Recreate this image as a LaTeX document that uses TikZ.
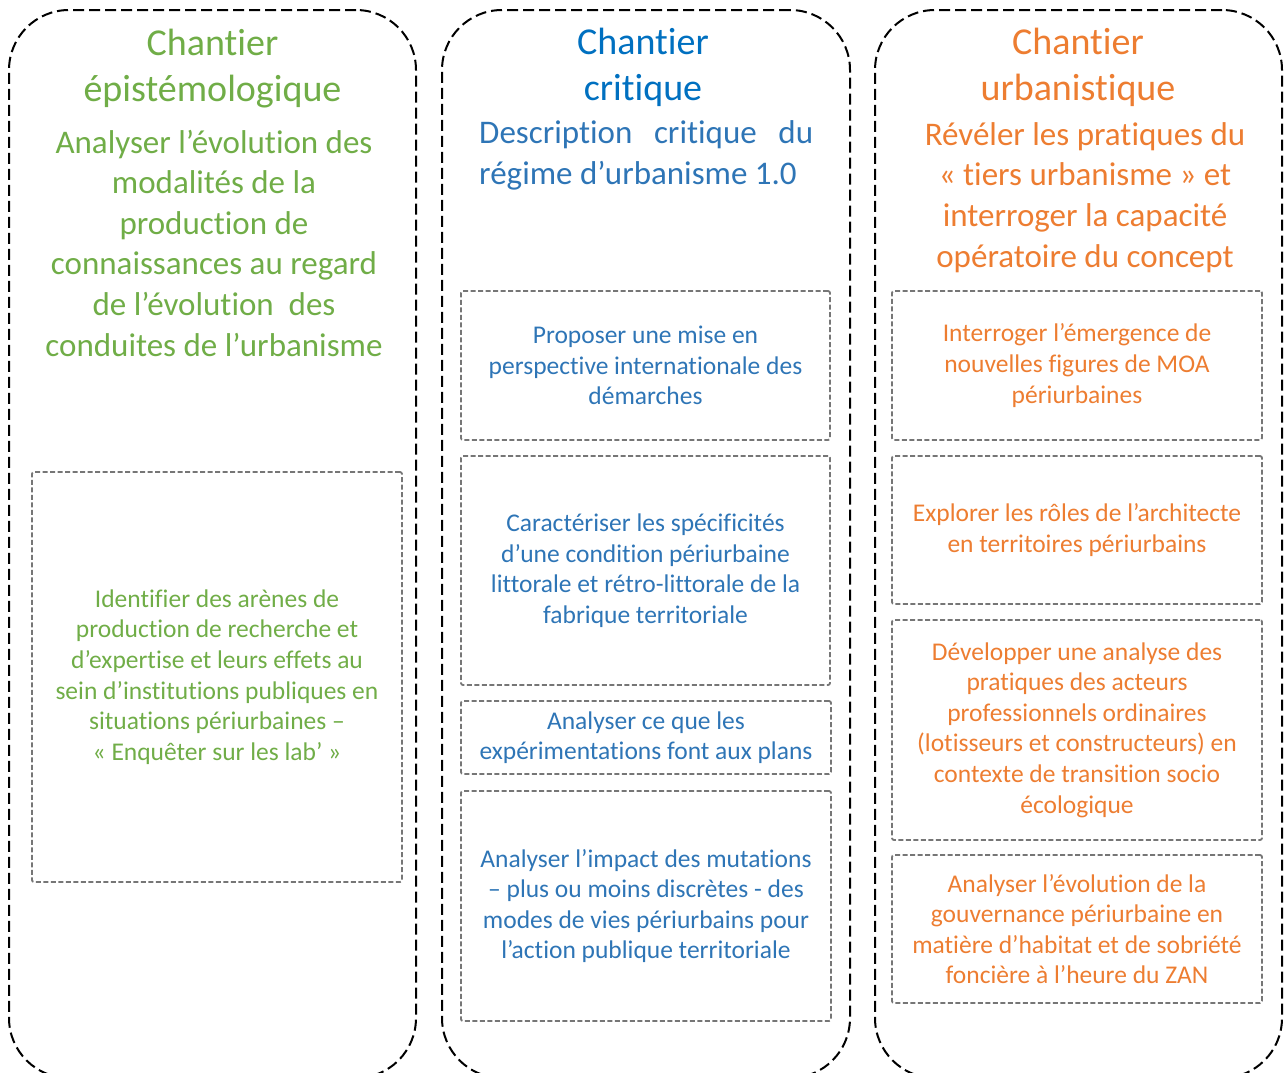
\documentclass[tikz,border=0pt]{standalone}
\usepackage{fontspec}
\setmainfont{Carlito}[Ligatures=NoCommon]
\definecolor{epigreen}{HTML}{70AD47}
\definecolor{critblue}{HTML}{0070C0}
\definecolor{critbluel}{HTML}{2E75B6}
\definecolor{urborange}{HTML}{ED7D31}
\definecolor{boxgray}{HTML}{767676}
\tikzset{
  column/.style={draw=black, line width=2pt, dash pattern=on 11pt off 5pt, rounded corners=60pt,
    minimum width=407pt, minimum height=1068pt, inner sep=0pt},
  subbox/.style={draw=boxgray, line width=1.8pt, dash pattern=on 5pt off 2.5pt, rounded corners=2pt,
    align=center, inner sep=0pt, font=\fontsize{25.5}{30.6}\selectfont},
  chtitle/.style={align=center, anchor=base, font=\fontsize{38}{46}\selectfont},
  chlead/.style={align=center, anchor=base, font=\fontsize{33}{40.6}\selectfont},
}
\begin{document}
\begin{tikzpicture}[x=1pt, y=-1pt]
  \useasboundingbox (0,0) rectangle (1285,1072);
  % the three chantiers
  \node[column] (C1) at (212.5,544) {};
  \node[column, minimum width=408pt] (C2) at (646,544) {};
  \node[column] (C3) at (1078.5,544) {};
  % epistemologique (anchors sit on the last line)
  \node[chtitle, text=epigreen] (T1) at (212.5,101) {Chantier\\épistémologique};
  \node[chlead, text=epigreen] (L1) at (214,356) {Analyser l’évolution des\\modalités de la\\production de\\connaissances au regard\\de l’évolution\ \ des\\conduites de l’urbanisme};
  \node[subbox, text=epigreen, minimum width=370pt, minimum height=410pt] (E1) at (217,677)
    {Identifier des arènes de\\production de recherche et\\d’expertise et leurs effets au\\sein d’institutions publiques en\\situations périurbaines –\\« Enquêter sur les lab’ »};
  % critique
  \node[chtitle, text=critblue] (T2) at (643,100) {Chantier\\critique};
  \node[chlead, anchor=base west, align=left, inner xsep=0pt, text=critbluel] (L2) at (479,184)
    {\makebox[334pt][s]{Description critique du}\\régime d’urbanisme 1.0};
  \node[subbox, text=critbluel, minimum width=369pt, minimum height=149pt] (K1) at (645.5,365.5)
    {Proposer une mise en\\perspective internationale des\\démarches};
  \node[subbox, text=critbluel, minimum width=369pt, minimum height=229pt] (K2) at (645.5,570.5)
    {Caractériser les spécificités\\d’une condition périurbaine\\littorale et rétro-littorale de la\\fabrique territoriale};
  \node[subbox, text=critbluel, minimum width=370pt, minimum height=73pt] (K3) at (646,737.5)
    {Analyser ce que les\\expérimentations font aux plans};
  \node[subbox, text=critbluel, minimum width=370pt, minimum height=230pt] (K4) at (646,906)
    {Analyser l’impact des mutations\\– plus ou moins discrètes - des\\modes de vies périurbains pour\\l’action publique territoriale};
  % urbanistique
  \node[chtitle, text=urborange] (T3) at (1078,100) {Chantier\\urbanistique};
  \node[chlead, text=urborange] (L3) at (1085,267) {Révéler les pratiques du\\« tiers urbanisme » et\\interroger la capacité\\opératoire du concept};
  \node[subbox, text=urborange, minimum width=370pt, minimum height=149pt] (U1) at (1077,365.5)
    {Interroger l’émergence de\\nouvelles figures de MOA\\périurbaines};
  \node[subbox, text=urborange, minimum width=370pt, minimum height=148pt] (U2) at (1077,530)
    {Explorer les rôles de l’architecte\\en territoires périurbains};
  \node[subbox, text=urborange, minimum width=370pt, minimum height=220pt] (U3) at (1077,730)
    {Développer une analyse des\\pratiques des acteurs\\professionnels ordinaires\\(lotisseurs et constructeurs) en\\contexte de transition socio\\écologique};
  \node[subbox, text=urborange, minimum width=370pt, minimum height=148pt] (U4) at (1077,929)
    {Analyser l’évolution de la\\gouvernance périurbaine en\\matière d’habitat et de sobriété\\foncière à l’heure du ZAN};
\end{tikzpicture}
\end{document}
